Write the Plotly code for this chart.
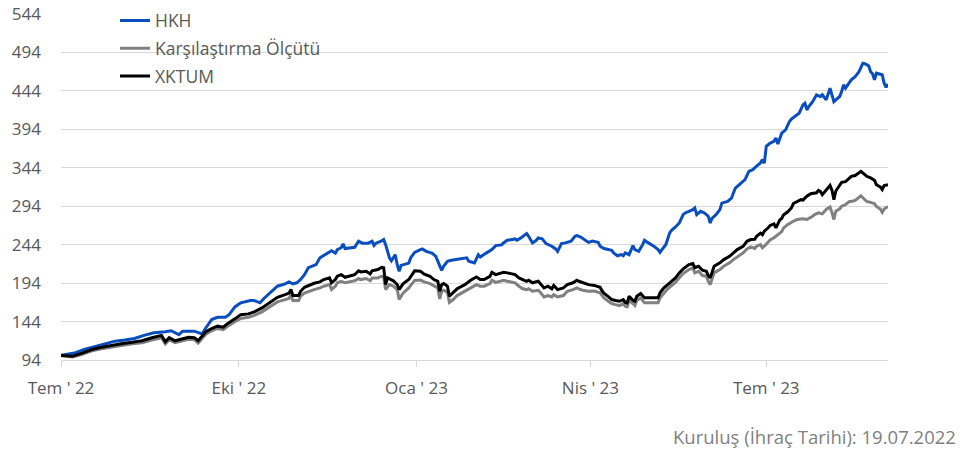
import pandas as pd
import plotly.graph_objects as go

# ---- data (index values, launch = 19.07.2022) ----
start_date = "2022-07-19"
end_date = "2023-09-20"

tick_dates = ["2022-07-19", "2022-10-19", "2023-01-19", "2023-04-19", "2023-07-19"]
tick_labels = ["Tem ' 22", "Eki ' 22", "Oca ' 23", "Nis ' 23", "Tem ' 23"]

y_ticks = [94, 144, 194, 244, 294, 344, 394, 444, 494, 544]

series_names = ["HKH", "Karşılaştırma Ölçütü", "XKTUM"]

# days since launch / value
hkh_days = [0, 7, 12, 18, 23, 28, 33, 38, 43, 48, 54, 57, 61, 63, 69, 73, 75, 78, 81, 85, 87, 90, 93, 98, 100, 103, 105, 109, 112, 116, 118, 120, 122, 124, 126, 128, 130, 132, 134, 136, 138, 140, 142, 143, 145, 146, 147, 149, 152, 154, 156, 159, 161, 162, 163, 166, 167, 168, 170, 171, 173, 174, 175, 176, 180, 181, 183, 186, 187, 189, 192, 194, 196, 197, 198, 200, 202, 205, 210, 211, 214, 216, 217, 220, 223, 225, 228, 229, 231, 235, 236, 238, 240, 241, 242, 244, 246, 247, 249, 251, 254, 256, 257, 259, 261, 264, 266, 267, 269, 271, 273, 275, 278, 279, 281, 285, 286, 288, 290, 291, 292, 294, 296, 297, 299, 301, 302, 304, 307, 309, 310, 311, 313, 315, 316, 318, 320, 322, 323, 325, 327, 328, 329, 331, 333, 335, 336, 337, 339, 341, 342, 345, 347, 349, 351, 353, 354, 356, 358, 360, 362, 363, 364, 365, 367, 369, 370, 371, 372, 373, 375, 377, 378, 380, 382, 384, 385, 386, 387, 389, 390, 391, 393, 394, 396, 397, 398, 399, 400, 401, 403, 404, 405, 406, 408, 409, 411, 413, 415, 416, 418, 419, 420, 421, 422, 423, 425, 426, 427, 428]
hkh_values = [100, 103, 107.7, 112, 115, 118.5, 120, 122, 126, 129.4, 130.7, 132, 127, 131.5, 131.5, 128, 136, 146.6, 149.6, 149.6, 153, 163, 168.4, 171.4, 171.4, 168.4, 174, 183.4, 190, 193, 195.6, 193, 194.4, 198.6, 205, 214, 216, 218, 226.9, 230, 233, 236, 233, 237.6, 240, 245, 239, 240, 240.6, 248.4, 246, 246, 248.4, 243, 246, 249, 250.6, 244, 226.9, 223, 231, 218, 209.4, 217, 220, 227, 234, 237.6, 238.5, 235.3, 233, 228.8, 218, 210.6, 215.8, 222.4, 223.7, 224.6, 226.9, 222.4, 220.3, 231, 228, 233, 237.6, 242.8, 243.7, 246.3, 249.7, 251.5, 249.7, 252.8, 257, 258.4, 254.9, 246.3, 249.7, 252.8, 251.5, 245.5, 242, 238.5, 235.3, 245.5, 246.3, 248.4, 254.9, 255.8, 254, 250.6, 247, 248.8, 247, 242, 239, 236.6, 233.2, 229.6, 231, 229.6, 233.2, 231, 242.8, 237.6, 235.4, 244, 249.7, 246.3, 241.8, 237.6, 234, 237.6, 244, 259.2, 262.7, 267, 272.2, 283, 285.2, 287.4, 289.6, 291.8, 283, 287.4, 285.2, 280.8, 272.2, 278.6, 283, 289.6, 298, 300.2, 304.6, 317.6, 322, 326.4, 328.6, 339.4, 341.6, 346, 350.3, 354.6, 350, 372, 376.2, 378.4, 382.7, 375, 382.6, 389, 393.4, 404.2, 407.2, 410.8, 415, 425.9, 428, 419.3, 423.6, 430, 434.4, 438.9, 436.7, 438.9, 432.3, 441, 447.5, 438.9, 430, 432.3, 436.7, 443.2, 451.9, 447.5, 454, 458.3, 462.6, 469, 480, 479.3, 476.6, 469, 466.2, 458.3, 467, 466.2, 464.9, 454, 448.7, 453]

bench_days = [0, 6, 11, 16, 21, 26, 32, 37, 42, 47, 52, 54, 56, 59, 63, 66, 69, 71, 73, 75, 78, 81, 84, 86, 90, 93, 97, 100, 104, 107, 110, 112, 116, 118, 119, 120, 123, 124, 126, 129, 131, 134, 136, 139, 140, 142, 143, 145, 147, 149, 152, 154, 155, 158, 160, 161, 164, 166, 167, 168, 170, 172, 174, 175, 177, 180, 183, 186, 188, 191, 193, 195, 196, 197, 198, 200, 201, 203, 205, 209, 212, 215, 217, 219, 222, 223, 225, 228, 229, 231, 235, 237, 239, 241, 242, 244, 247, 248, 250, 252, 254, 255, 257, 260, 262, 265, 267, 268, 270, 273, 276, 279, 280, 281, 284, 285, 287, 289, 291, 292, 293, 294, 296, 297, 298, 300, 302, 309, 310, 312, 314, 316, 318, 320, 322, 325, 327, 328, 330, 332, 334, 335, 336, 338, 341, 343, 346, 348, 350, 353, 355, 357, 359, 360, 362, 363, 364, 366, 367, 369, 371, 373, 374, 376, 379, 381, 384, 386, 389, 390, 392, 394, 396, 397, 398, 399, 400, 401, 403, 404, 406, 408, 409, 411, 413, 414, 416, 417, 419, 421, 422, 424, 425, 426, 428]
bench_values = [100, 98, 101.5, 106, 108.5, 111, 113, 115, 116.5, 120, 123, 115, 120, 116.5, 119.5, 121, 120.5, 116, 122, 127.5, 132, 135, 133.5, 137.5, 143.7, 148, 149.6, 152, 156.6, 161.8, 166, 169.6, 172.6, 174, 179, 171.4, 171.4, 177, 181, 184, 185.6, 187.8, 190, 192, 185.6, 190, 194.4, 196.4, 194.4, 195.6, 197, 199.9, 198.6, 199.9, 197, 200.8, 200.8, 203, 201.6, 185.6, 192, 190, 185.6, 172.6, 181, 187.8, 197.5, 198, 195.5, 193.4, 190.9, 187.8, 173.5, 183.4, 184.7, 182, 169, 172.6, 177.8, 183.4, 187.8, 192, 190, 190, 193.4, 197.7, 195, 196.4, 197.7, 196.4, 194.4, 190, 186.6, 185.6, 186.6, 183.4, 184.7, 182, 176, 177.8, 176, 179, 176, 177.8, 183.4, 185.6, 187.8, 186.6, 184.7, 183.4, 183.8, 181.4, 178, 174.8, 169, 167.4, 166, 164.8, 167.4, 164, 163.2, 171.7, 167.4, 164.8, 171.7, 174.8, 168.3, 168.3, 174.8, 181.4, 186.6, 190.9, 195, 200.8, 206.4, 211.6, 213.8, 207.3, 209.4, 203.8, 203, 196.4, 192, 207.3, 211.6, 216, 220.3, 224.6, 228, 233.2, 238.4, 241, 239, 242, 244, 240, 242, 247, 250, 253, 257, 261, 265.8, 270, 274.5, 276.7, 277.6, 276.7, 281, 283.2, 285.4, 284, 289.8, 292, 293, 286, 276.7, 287.6, 290.7, 294, 296, 300.2, 300.2, 301.6, 306, 307.6, 302.4, 300.2, 299, 297.3, 293.8, 290.4, 286.1, 290.4, 293.8]

xktum_days = [0, 6, 11, 16, 21, 26, 32, 37, 42, 47, 52, 54, 56, 59, 63, 66, 69, 71, 73, 75, 78, 81, 84, 86, 90, 93, 97, 100, 104, 107, 110, 112, 116, 118, 119, 120, 123, 124, 126, 129, 131, 134, 136, 139, 140, 142, 143, 145, 147, 149, 152, 154, 155, 158, 160, 161, 164, 166, 167, 168, 169, 172, 174, 175, 177, 180, 183, 186, 188, 191, 193, 195, 196, 197, 198, 199, 200, 201, 203, 205, 209, 212, 215, 217, 219, 222, 223, 225, 228, 229, 231, 235, 237, 239, 241, 242, 244, 247, 248, 250, 252, 254, 255, 257, 260, 262, 265, 267, 268, 270, 273, 276, 279, 280, 281, 284, 285, 287, 289, 291, 292, 293, 294, 296, 297, 298, 300, 302, 304, 307, 309, 310, 312, 314, 316, 318, 320, 322, 325, 327, 328, 330, 332, 334, 335, 336, 338, 341, 343, 346, 348, 350, 353, 355, 357, 359, 360, 362, 363, 364, 366, 367, 369, 370, 371, 372, 373, 374, 376, 378, 379, 381, 383, 384, 386, 388, 390, 391, 392, 393, 394, 396, 397, 398, 399, 400, 401, 403, 404, 406, 408, 409, 411, 413, 414, 416, 417, 419, 421, 422, 424, 425, 426, 428]
xktum_values = [100, 99, 103, 107.7, 110.6, 113, 115.5, 117, 119, 123, 126, 117.6, 123, 119, 122, 123.6, 123, 119, 125, 130.7, 135, 138, 136.6, 141, 147.5, 153, 154, 156.6, 161.8, 167, 172.6, 175.6, 179, 181, 185.6, 178, 178, 183.4, 188.6, 192, 193.8, 195.6, 198.6, 200.8, 194.4, 198.6, 203, 205, 201.6, 203, 205, 210, 208.6, 209.4, 206, 210, 211.6, 214.6, 214, 192, 200.8, 197, 192, 185.6, 193, 198.6, 210, 209.5, 205.5, 202.8, 198.6, 196.4, 183.4, 192, 193.4, 192, 189.9, 176.9, 181.4, 186.6, 192, 197.7, 202, 198.6, 198.6, 202.8, 208, 205, 207.3, 208, 207.3, 205, 200.8, 198.6, 196.4, 197.7, 194.4, 196.4, 193.4, 187.8, 190, 186.6, 190.9, 185.6, 187.8, 192, 194.4, 197.7, 196.4, 194.4, 192, 191, 188.5, 184, 181, 174.8, 172.6, 171.4, 170.4, 172.6, 169, 168.3, 177, 171.7, 170.4, 177, 180.5, 174.8, 174.8, 174.8, 174.8, 181.4, 187.8, 192, 196.4, 200.8, 207.3, 212.5, 218, 219.4, 214, 216, 210.7, 209.4, 203.8, 200.8, 216, 220.3, 224.6, 228.8, 233.2, 237.6, 241.8, 248.4, 250.6, 251, 255, 259, 257, 261.5, 266, 269, 271, 266, 271, 276, 278, 283, 286.5, 291.7, 297.5, 300.4, 302.5, 302, 307, 310.3, 311, 311.5, 314.5, 313.3, 309, 315.6, 319, 321, 315, 302.4, 313.8, 320.3, 325, 326, 330.8, 332.9, 333.9, 337.3, 339.4, 335.1, 332.9, 330.8, 327.7, 322, 319.1, 315.6, 320.8, 322]

series_days = [hkh_days, bench_days, xktum_days]
series_values = [hkh_values, bench_values, xktum_values]
series_colors = ["#0A4DBF", "#808080", "#000000"]

base = pd.Timestamp(start_date)

FONT = "Open Sans"
TXT = "#595959"
GRID = "#D9D9D9"

fig = go.Figure()
for i, (name, d, v, c) in enumerate(zip(series_names, series_days, series_values, series_colors)):
    fig.add_trace(go.Scatter(
        x=base + pd.to_timedelta(d, unit="D"),
        y=v,
        name=name,
        mode="lines",
        line=dict(color=c, width=3),
        legendgroup=f"g{i}",
        hoverinfo="skip",
    ))

fig.update_layout(
    width=968,
    height=450,
    margin=dict(l=61, r=80, t=14, b=90, autoexpand=False),
    paper_bgcolor="white",
    plot_bgcolor="white",
    font=dict(family=FONT, size=17, color=TXT),
    showlegend=True,
    legend=dict(
        x=0.0653, y=1.033, xanchor="left", yanchor="top",
        bgcolor="rgba(0,0,0,0)",
        font=dict(family=FONT, size=17.5, color=TXT),
        traceorder="grouped",
        tracegroupgap=2,
        itemclick=False,
    ),
    xaxis=dict(
        type="date",
        range=[start_date, end_date],
        tickmode="array",
        tickvals=tick_dates,
        ticktext=tick_labels,
        showgrid=False,
        showline=True,
        linecolor=GRID,
        linewidth=1,
        ticks="outside",
        ticklen=6,
        tickcolor=GRID,
        ticklabelstandoff=7,
        tickfont=dict(family=FONT, size=17, color=TXT),
        zeroline=False,
        automargin=False,
    ),
    yaxis=dict(
        range=[94, 544],
        tickmode="array",
        tickvals=y_ticks,
        showgrid=True,
        gridcolor=GRID,
        gridwidth=1,
        zeroline=False,
        showline=False,
        ticks="",
        ticklabelstandoff=19,
        ticklabeloverflow="allow",
        tickfont=dict(family=FONT, size=17, color=TXT),
        automargin=False,
    ),
    annotations=[dict(
        text="Kuruluş (İhraç Tarihi): 19.07.2022",
        xref="paper", yref="paper",
        x=1.0847, y=-0.2197,
        xanchor="right", yanchor="middle",
        showarrow=False,
        font=dict(family=FONT, size=18.5, color="#7F7F7F"),
    )],
)

# remove the browser's default 8px body margin so the figure fills the window
fig.write_html(
    "out.html",
    config={"displayModeBar": False, "staticPlot": True},
    post_script="document.body.style.margin='0px';",
)
